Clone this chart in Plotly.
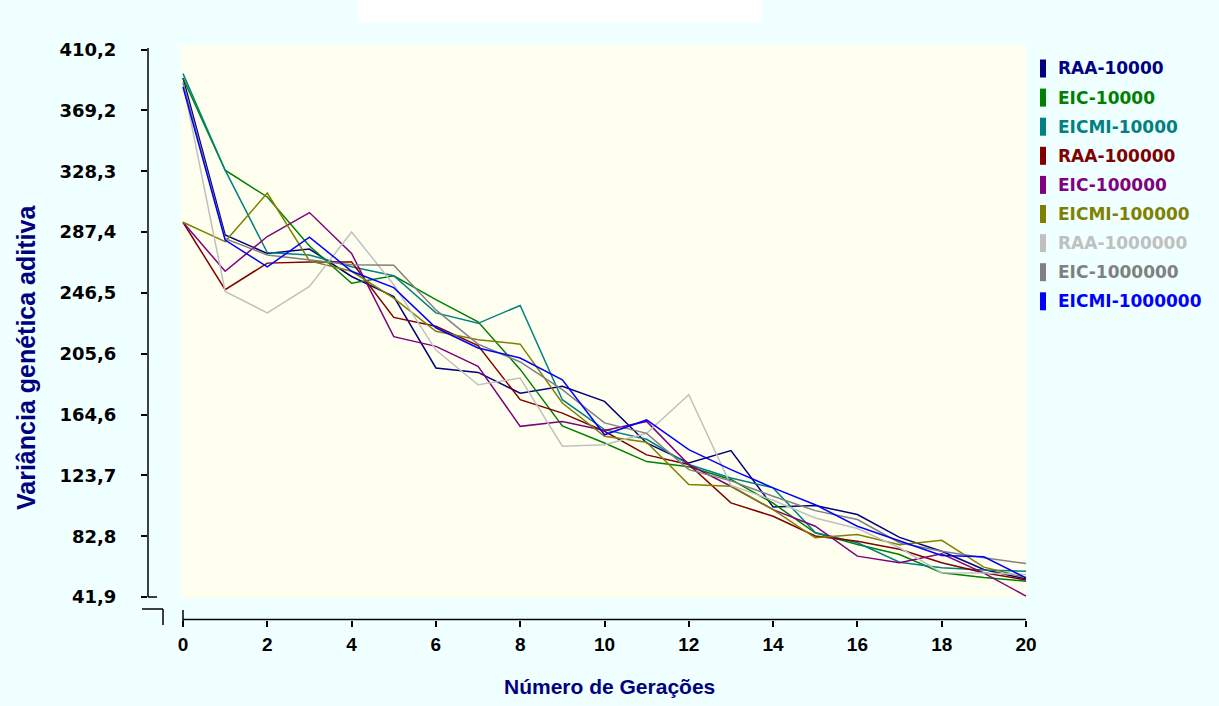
import plotly.graph_objects as go

# ---------------- data ----------------
generations = list(range(21))

series_names = ["RAA-10000", "EIC-10000", "EICMI-10000",
                "RAA-100000", "EIC-100000", "EICMI-100000",
                "RAA-1000000", "EIC-1000000", "EICMI-1000000"]

raa_10000 = [391, 285.5, 273, 276, 257.5, 244, 196, 193, 179, 183.6, 173.5,
             145.5, 132, 140.4, 102.5, 103.5, 97.4, 82, 72.7, 60.4, 54]
eic_10000 = [391, 329, 311, 278, 253, 258, 242, 227, 195, 157, 145.5,
             133, 129.5, 121, 105, 85, 77.2, 70.5, 58.2, 55, 52.5]
eicmi_10000 = [394, 329, 273.6, 272, 264, 258, 233, 226, 238, 174.6, 154.5,
               148, 131, 122, 115.3, 85.3, 78.4, 65.3, 61.5, 60, 59.3]
raa_100000 = [294, 248.6, 266.5, 267.2, 267.2, 230, 224, 211, 174.6, 165.6, 153.4,
              137.5, 131, 105.2, 96.2, 83, 79.4, 74, 65, 58.2, 53.4]
eic_100000 = [294, 261, 284.4, 300.5, 273, 217, 210.5, 197, 156.7, 160, 154,
              160, 131, 116.4, 100.7, 89.5, 69.4, 64.9, 71, 58, 42.5]
eicmi_100000 = [294, 281, 313.6, 268, 261, 243, 220.6, 215, 212, 172.4, 150,
                146, 117.5, 116.4, 100.7, 81.7, 84, 77, 80, 62, 55]
raa_1000000 = [388, 247.4, 233, 250.8, 287.4, 252, 208, 184.7, 189.2, 143.3, 144.4,
               152, 178, 117, 107, 95, 88, 75, 58.2, 58, 57]
eic_1000000 = [388, 283, 272, 268.7, 265.4, 265, 235, 212, 200, 181.4, 159,
               152, 127.6, 120, 109.7, 100, 94, 78.4, 72.7, 68.3, 64.4]
eicmi_1000000 = [385, 282, 264, 284, 261, 250, 223, 209.4, 202.7, 188, 151,
                 161, 141, 127.6, 115.3, 104, 89.5, 79.4, 69.8, 68.9, 54.8]

series_values = [raa_10000, eic_10000, eicmi_10000,
                 raa_100000, eic_100000, eicmi_100000,
                 raa_1000000, eic_1000000, eicmi_1000000]

series_colors = ["#000080", "#008000", "#008080",
                 "#800000", "#800080", "#808000",
                 "#C0C0C0", "#808080", "#0000FF"]

y_tick_values = [41.9, 82.8, 123.7, 164.6, 205.6, 246.5, 287.4, 328.3, 369.2, 410.2]
y_tick_labels = ["41,9", "82,8", "123,7", "164,6", "205,6", "246,5",
                 "287,4", "328,3", "369,2", "410,2"]
x_tick_values = list(range(0, 21, 2))
x_tick_labels = [str(v) for v in x_tick_values]

x_title = "Número de Gerações"
y_title = "Variância genética aditiva"

# ---------------- layout geometry (pixels) ----------------
W, H = 1219, 706
L, R, T, B = 148, 1030, 45, 620
X0_PX, X20_PX = 183, 1026
Y_LO_PX, Y_HI_PX = 597, 49.5

ppx = (X20_PX - X0_PX) / 20.0
xr = [0 - (X0_PX - L) / ppx, 20 + (R - X20_PX) / ppx]
ppy = (Y_LO_PX - Y_HI_PX) / (410.2 - 41.9)
yr = [41.9 - (B - Y_LO_PX) / ppy, 410.2 + (Y_HI_PX - T) / ppy]


def fx(p):
    return (p - L) / (R - L)


def fy(p):
    return (B - p) / (B - T)


BG = "#F0FFFF"
PLOT_BG = "#FFFFF0"

fig = go.Figure()
for name, vals, col in zip(series_names, series_values, series_colors):
    fig.add_trace(go.Scatter(x=generations, y=vals, mode="lines", name=name,
                             line=dict(color=col, width=1.5), showlegend=False,
                             hoverinfo="x+y+name"))

shapes = []
# plot background panel
shapes.append(dict(type="rect", xref="paper", yref="paper", layer="below",
                   x0=fx(181), x1=fx(1026), y0=fy(598), y1=fy(45),
                   fillcolor=PLOT_BG, line=dict(width=0)))
# white blob at top
shapes.append(dict(type="rect", xref="paper", yref="paper", layer="below",
                   x0=fx(358), x1=fx(762), y0=fy(22), y1=fy(-5),
                   fillcolor="#FFFFFF", line=dict(width=0)))


def seg(x0, y0, x1, y1):
    shapes.append(dict(type="line", xref="paper", yref="paper",
                       x0=fx(x0), y0=fy(y0), x1=fx(x1), y1=fy(y1),
                       line=dict(color="#000000", width=1.5)))


# y axis line
seg(148, 48, 148, 597)
seg(148, 597, 157, 597)
# break symbol
seg(142, 609, 163, 609)
seg(163, 609, 163, 625)
# x axis line
seg(183, 619.5, 1026, 619.5)
seg(183, 610, 183, 625)

annotations = []
# legend
for i, (name, col) in enumerate(zip(series_names, series_colors)):
    cy = 68.5 + 29.1 * i
    shapes.append(dict(type="rect", xref="paper", yref="paper",
                       x0=fx(1040), x1=fx(1046), y0=fy(cy + 9), y1=fy(cy - 9),
                       fillcolor=col, line=dict(width=0)))
    annotations.append(dict(xref="paper", yref="paper", x=fx(1056), y=fy(cy),
                            xanchor="left", yanchor="middle", showarrow=False,
                            text=name,
                            font=dict(family="DejaVu Sans", size=17, color=col,
                                      weight="bold")))

# axis titles
annotations.append(dict(xref="paper", yref="paper", x=fx(609), y=fy(686),
                        xanchor="center", yanchor="middle", showarrow=False,
                        text=x_title,
                        font=dict(family="Liberation Sans", size=21, color="#000080",
                                  weight="bold")))
annotations.append(dict(xref="paper", yref="paper", x=fx(26), y=fy(358),
                        xanchor="center", yanchor="middle", showarrow=False,
                        text=y_title, textangle=-90,
                        font=dict(family="Liberation Sans", size=25, color="#000080",
                                  weight="bold")))

fig.update_layout(
    width=W, height=H,
    margin=dict(l=L, r=W - R, t=T, b=H - B, pad=0),
    paper_bgcolor=BG, plot_bgcolor=BG,
    showlegend=False,
    shapes=shapes, annotations=annotations,
    xaxis=dict(range=xr, showgrid=False, zeroline=False, showline=False,
               tickmode="array", tickvals=x_tick_values, ticktext=x_tick_labels,
               ticks="outside", ticklen=6, tickwidth=1.5, tickcolor="#000000",
               ticklabelstandoff=1,
               tickfont=dict(family="Liberation Sans", size=19, color="#000000",
                             weight="bold")),
    yaxis=dict(range=yr, showgrid=False, zeroline=False, showline=False,
               tickmode="array", tickvals=y_tick_values, ticktext=y_tick_labels,
               ticks="outside", ticklen=6, tickwidth=1.5, tickcolor="#000000",
               ticklabelstandoff=21,
               tickfont=dict(family="DejaVu Sans", size=18, color="#000000",
                             weight="bold")),
)

fig.write_html("out.html")
